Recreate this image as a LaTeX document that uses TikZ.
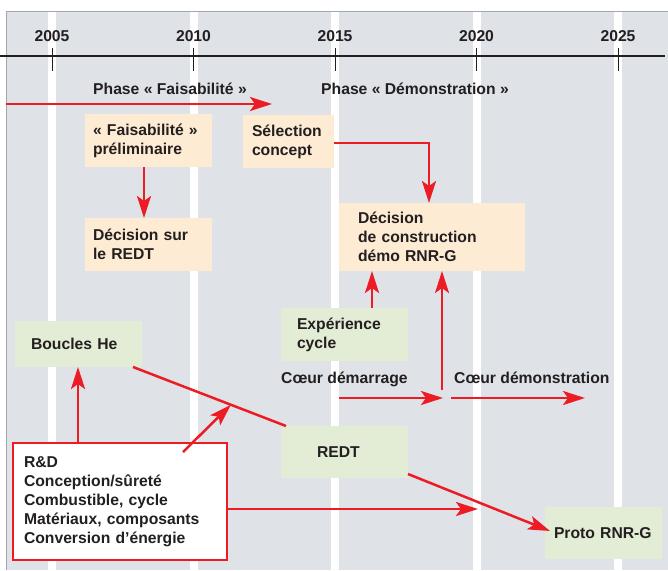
\documentclass[tikz,border=0pt]{standalone}
\usepackage{fontspec}
\setmainfont{Liberation Sans}
\usetikzlibrary{arrows.meta}
\definecolor{bggray}{HTML}{DFE3E7}
\definecolor{framec}{HTML}{A3A8AD}
\definecolor{redc}{HTML}{ED1C24}
\definecolor{obox}{HTML}{FDEBD3}
\definecolor{gbox}{HTML}{E3EDD6}
\definecolor{txtc}{HTML}{231F20}
\tikzset{
  arr/.style={draw=redc, line width=2.5pt, -{Stealth[length=22pt,width=14pt,inset=5pt]}},
  redline/.style={draw=redc, line width=2.5pt},
  boxs/.style={anchor=north west, align=left, inner ysep=0pt, outer sep=0pt, text=txtc},
  orng/.style={boxs, fill=obox},
  grn/.style={boxs, fill=gbox},
  lbl/.style={anchor=base west, inner sep=0pt, text=txtc},
  yearlbl/.style={anchor=base, inner sep=0pt, text=txtc},
}
\begin{document}
\begin{tikzpicture}[x=1pt,y=-1pt,font=\fontsize{15.7}{19}\selectfont\bfseries]
\useasboundingbox (0,0) rectangle (668,570);
% background
\fill[bggray] (6,11) rectangle (668,570);
\foreach \xx in {52,193.5,335,476.5,618}
  \fill[white] (\xx-4,11) rectangle (\xx+4,570);
\draw[framec, line width=1pt] (6,570) -- (6,11) -- (668,11);
% axis
\draw[txtc, line width=1.1pt] (0,56) -- (665,56);
\foreach \xx/\yr in {52/2005,193.5/2010,335/2015,476.5/2020,618/2025}{
  \draw[txtc, line width=1pt] (\xx,48) -- (\xx,71);
  \node[yearlbl] (y\yr) at (\xx,41) {\yr};
}
% phase labels
\node[lbl] (phf) at (93,94) {Phase «~Faisabilité~»};
\node[lbl] (phd) at (321,94) {Phase «~Démonstration~»};
% boxes
\node[orng, inner xsep=8pt, text width=111pt, minimum height=53pt] (prelim) at (85,114) {«~Faisabilité~»\\préliminaire};
\node[orng, inner xsep=9pt, text width=73pt, minimum height=53pt] (selection) at (243,115) {Sélection\\concept};
\node[orng, inner xsep=8pt, text width=111pt, minimum height=53pt] (decREDT) at (85,218) {Décision sur\\le REDT};
\node[orng, inner xsep=19pt, text width=148pt, minimum height=68pt] (decdemo) at (339,203) {Décision\\de construction\\démo RNR-G};
\node[grn, inner xsep=16pt, text width=95pt, minimum height=53pt] (experience) at (281,308) {Expérience\\cycle};
\node[grn, inner xsep=16pt, text width=95pt, minimum height=46pt] (boucles) at (15,321) {Boucles He};
\node[grn, inner xsep=36pt, text width=55pt, minimum height=52pt] (redt) at (281,426) {REDT};
\node[grn, inner xsep=9pt, text width=99pt, minimum height=52pt] (proto) at (545,507) {Proto~RNR-G};
\node[boxs, fill=white, draw=redc, line width=1.5pt, inner xsep=11pt, text width=192pt, minimum height=117pt] (rd) at (13,443)
  {R\&D\\Conception/sûreté\\Combustible, cycle\\Matériaux, composants\\Conversion d’énergie};
% core labels
\node[lbl] (cdem) at (281,383) {Cœur démarrage};
\node[lbl] (cdemo) at (454,383) {Cœur démonstration};
% connectors
\coordinate (phs) at (6,104);
\coordinate (phe) at (272,104);
\draw[arr] (phs) -- (phe);
\draw[arr] ([xshift=-4.5pt]prelim.south) -- ([xshift=-4.5pt]decREDT.north);
\draw[arr] ([yshift=-1.5pt]selection.east) -| ([xshift=-3pt]decdemo.north);
\coordinate (expo) at ([xshift=27.5pt]experience.north);
\draw[arr] (expo) -- (expo |- decdemo.south);
\coordinate (vstart) at (442,390);
\draw[arr] (vstart) -- (vstart |- decdemo.south);
\coordinate (cda) at (339,398);
\coordinate (cdb) at (443,398);
\draw[arr] (cda) -- (cdb);
\coordinate (cdc) at (451,398);
\coordinate (cdd) at (585,398);
\draw[arr] (cdc) -- (cdd);
\coordinate (rdb) at ([xshift=-42pt]rd.north);
\draw[arr] (rdb) -- (rdb |- boucles.south);
\draw[redline] ([xshift=-9pt]boucles.south east) -- coordinate[pos=0.64] (meet) ([xshift=5pt]redt.north west);
\draw[arr] ([xshift=63pt,yshift=-9pt]rd.north) -- (meet);
\coordinate (rde) at (478,509);
\draw[arr] ([yshift=-7.5pt]rd.east) -- (rde);
\draw[arr] ([yshift=4pt]redt.south east) -- ([xshift=5pt,yshift=2pt]proto.west);
\end{tikzpicture}
\end{document}
